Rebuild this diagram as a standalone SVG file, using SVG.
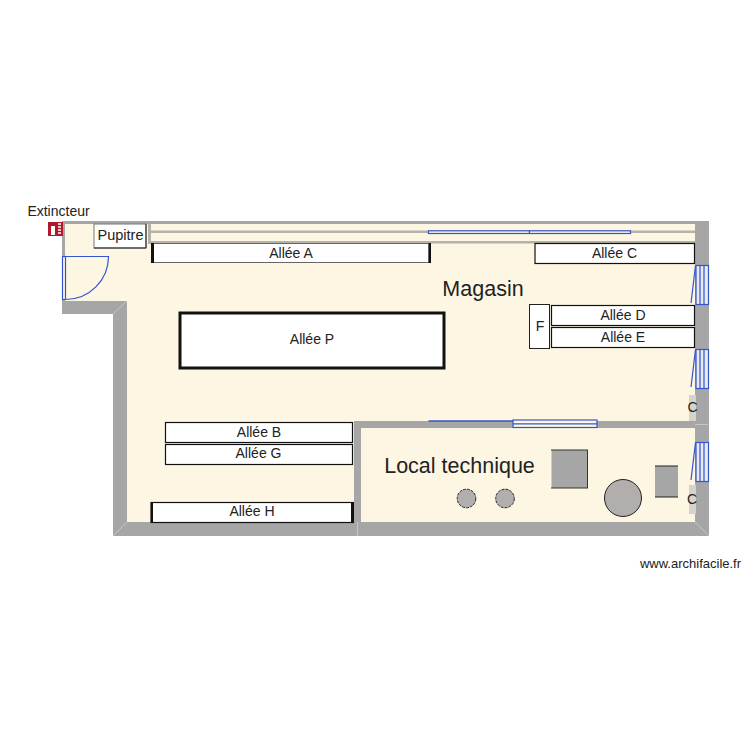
<svg xmlns="http://www.w3.org/2000/svg" width="750" height="750" viewBox="0 0 750 750">
<style>
text{font-family:"Liberation Sans",Arial,sans-serif;fill:#222;text-anchor:middle}
.wall{fill:#a6a6a6}
.thin{fill:#b4b2ab}
.shelf{fill:#fff;stroke:#111;stroke-width:1.2}
.edge{fill:#111}
.win{fill:none;stroke:#3355cc;stroke-width:1.2}
.winf{fill:#e9e9f0;stroke:#3355cc;stroke-width:1.2}
.eq{fill:#b3aeae;stroke:#222;stroke-width:1}
.miter{stroke:#c6c6c6;stroke-width:1;fill:none}
.t14{font-size:14px}
</style>
<rect width="750" height="750" fill="#fff"/>
<g id="floor"><path d="M65 224H695V522H127V314H65Z" fill="#fdf6e3"/></g>
<g id="walls">
<path class="wall" d="M62 221H709V536H113V314H62ZM65 224V301H127V522H354V421H695V224ZM361 428V522H695V428Z" fill-rule="evenodd"/>
<rect class="thin" x="150" y="230.500" width="545" height="2.500"/>
<rect class="thin" x="150" y="241" width="545" height="2.500"/>
<rect class="thin" x="148" y="224" width="3" height="20"/>
<path class="miter" d="M127 301L113 314M113 536L127 522M709 536L695 522M357.500 522V536M695 424.500H708"/>
</g>
<g id="door"><rect x="62.500" y="256.500" width="3" height="43" fill="#fdf6e3" stroke="#3355cc" stroke-width="1.200"/><path class="win" d="M65.500 256.500H108.500A43 43 0 0 1 65.500 299.500"/></g>
<g id="extincteur"><rect x="48" y="222" width="15" height="14" fill="#b2182b"/><rect x="51" y="226" width="4" height="9" fill="#fff"/><path d="M58 224h3M58 227h3M58 230h3M58 233h3" stroke="#fff" stroke-width="1.500"/><text x="58.500" y="216" style="font-size:14px">Extincteur</text></g>
<g id="pupitre"><rect x="94" y="224" width="52" height="24" fill="#fff" stroke="#777"/><path d="M146 224V248H94" fill="none" stroke="#222"/><text x="120.500" y="240" style="font-size:14.500px">Pupitre</text></g>
<g id="windows">
<rect x="428.500" y="230.800" width="101" height="2.700" fill="#fdf6e3" stroke="#3355cc" stroke-width="1.200"/><rect x="529.500" y="230.800" width="101" height="2.700" fill="#fdf6e3" stroke="#3355cc" stroke-width="1.200"/>
<path d="M428.500 421H513" stroke="#3355cc" stroke-width="1.600"/><rect x="513" y="420" width="84" height="7.500" fill="#fdf6e3" stroke="#3355cc" stroke-width="1.200"/><path class="win" d="M513 423.800H597"/>
<rect class="winf" x="696" y="265.500" width="12.500" height="39"/><path class="win" d="M700 265.500V304.500M704 265.500V304.500M695.500 265.500L691 303"/>
<rect class="winf" x="696" y="349.500" width="12.500" height="39"/><path class="win" d="M700 349.500V388.500M704 349.500V388.500M695.500 349.500L691 387"/>
<rect class="winf" x="696" y="442.500" width="12.500" height="39"/><path class="win" d="M700 442.500V481.500M704 442.500V481.500M695.500 442.500L691 480"/>
</g>
<g id="shelf-a"><rect x="152" y="243.500" width="277" height="19" fill="#fff" stroke="#666"/><rect class="edge" x="151" y="243" width="3" height="20"/><rect class="edge" x="428.500" y="243" width="2.500" height="20"/><text x="291" y="257.500" class="t14">Allée A</text></g>
<g id="shelf-c"><rect class="shelf" x="535" y="243.500" width="159.500" height="20"/><text x="614.500" y="257.500" class="t14">Allée C</text></g>
<g id="shelf-d"><rect class="shelf" x="551.500" y="305.500" width="143" height="20"/><text x="623" y="320" class="t14">Allée D</text></g>
<g id="shelf-e"><rect class="shelf" x="551.500" y="327.500" width="143" height="20"/><text x="623" y="341.500" class="t14">Allée E</text></g>
<g id="shelf-f"><rect x="529.500" y="304.500" width="20" height="44" fill="#fff" stroke="#222"/><text x="540" y="331" class="t14">F</text></g>
<g id="shelf-p"><rect x="180" y="313" width="264" height="55" fill="#fff" stroke="#111" stroke-width="3"/><text x="312" y="344" class="t14">Allée P</text></g>
<g id="shelf-b"><rect class="shelf" x="165.500" y="422.500" width="187" height="20"/><text x="259" y="437" class="t14">Allée B</text></g>
<g id="shelf-g"><rect class="shelf" x="165.500" y="444.500" width="187" height="20"/><text x="258.500" y="458" class="t14">Allée G</text></g>
<g id="shelf-h"><rect class="shelf" x="151" y="502.500" width="202" height="20"/><rect class="edge" x="151" y="502" width="2" height="21"/><rect class="edge" x="351" y="502" width="3" height="21"/><text x="252" y="516" class="t14">Allée H</text></g>
<g id="label-magasin"><text x="483" y="296" style="font-size:21.500px">Magasin</text></g>
<g id="label-local"><text x="459.500" y="473" style="font-size:21.500px">Local technique</text></g>
<g id="equip1"><rect x="551.500" y="450" width="36" height="38" class="wall"/><path d="M551 450H588M551 488H588M587.500 450V488" stroke="#333" fill="none"/></g>
<g id="equip2"><rect x="655" y="466" width="23" height="31" class="wall"/><path d="M655 466H678M655 497H678" stroke="#222"/></g>
<g id="equip3"><circle class="eq" cx="623" cy="498" r="18.500"/></g>
<g id="equip4"><circle class="eq" cx="466.500" cy="498.500" r="9.300" stroke-dasharray="3 1"/></g>
<g id="equip5"><circle class="eq" cx="505" cy="498.500" r="9.300" stroke-dasharray="3 1"/></g>
<g id="c1"><rect x="689" y="395" width="7" height="26" fill="#d5d3cc"/><text x="692.500" y="412" class="t14">C</text></g>
<g id="c2"><rect x="689" y="485" width="7" height="29" fill="#d5d3cc"/><text x="692" y="504" class="t14">C</text></g>
<g id="credit"><text x="690.500" y="568" style="font-size:13px">www.archifacile.fr</text></g>
</svg>
